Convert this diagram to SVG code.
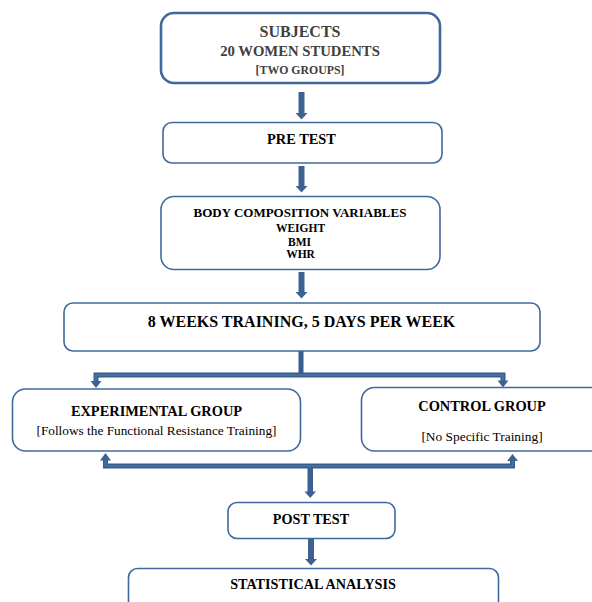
<svg xmlns="http://www.w3.org/2000/svg" width="592" height="602" viewBox="0 0 592 602">
<style>
.box{fill:#fff;stroke:#41689c;stroke-width:1.6}
.thick{stroke-width:2.6}
text{font-family:"Liberation Serif","Times New Roman",serif;text-anchor:middle}
.b{font-weight:bold;fill:#000}
.g{fill:#404040}
.r{fill:#000}
.bar{fill:none;stroke:#395d8c;stroke-width:5}
.barin{fill:none;stroke:#4d74a6;stroke-width:1.6}
.head{fill:#3d6292}
</style>
<rect width="592" height="602" fill="#fff"/>
<g id="connectors">
<rect x="298.5" y="92" width="6" height="21" class="head"/>
<polygon points="295.5,113 307.5,113 301.5,119.5" class="head"/>
<rect x="298.5" y="166" width="6" height="20" class="head"/>
<polygon points="295.5,186 307.5,186 301.5,192.5" class="head"/>
<rect x="298.5" y="272" width="6" height="20" class="head"/>
<polygon points="295.5,292 307.5,292 301.5,298.5" class="head"/>
<path d="M301,351 V375" class="bar"/>
<path d="M96,382 V375 H503 V382" class="bar"/>
<path d="M96,382 V375 H503 V382" class="barin"/>
<polygon points="90.5,381 101.5,381 96,388" class="head"/>
<polygon points="497.5,380.5 508.5,380.5 503,387.5" class="head"/>
<path d="M105.5,460 V466 H512.5 V460" class="bar"/>
<path d="M105.5,460 V466 H512.5 V460" class="barin"/>
<polygon points="100,460.5 111,460.5 105.5,453" class="head"/>
<polygon points="507,461 518,461 512.5,454" class="head"/>
<rect x="307.5" y="467" width="5.5" height="25" class="head"/>
<polygon points="304.5,491.5 316,491.5 310.2,498" class="head"/>
<rect x="308" y="539" width="6" height="20" class="head"/>
<polygon points="305,559 317,559 311,565.5" class="head"/>
</g>
<g id="subjects">
<rect x="161" y="13" width="279" height="70" rx="13" class="box thick"/>
<text x="300" y="37" font-size="16" class="b g">SUBJECTS</text>
<text x="300" y="56" font-size="14.7" class="b g">20 WOMEN STUDENTS</text>
<text x="300" y="73.5" font-size="11.8" class="b g">[TWO GROUPS]</text>
</g>
<g id="pretest">
<rect x="163" y="122.5" width="279" height="40.5" rx="9" class="box"/>
<text x="301.5" y="143.5" font-size="14.4" class="b">PRE TEST</text>
</g>
<g id="bodycomp">
<rect x="161" y="196.5" width="279" height="73" rx="13" class="box"/>
<text x="300" y="217.3" font-size="13" class="b">BODY COMPOSITION VARIABLES</text>
<text x="300.5" y="231.7" font-size="11.5" class="b">WEIGHT</text>
<text x="299.5" y="246" font-size="11.5" class="b">BMI</text>
<text x="300.5" y="258.3" font-size="11.5" class="b">WHR</text>
</g>
<g id="training">
<rect x="64" y="303" width="476" height="48" rx="9" class="box"/>
<text x="301.5" y="326.5" font-size="16" class="b">8 WEEKS TRAINING, 5 DAYS PER WEEK</text>
</g>
<g id="experimental">
<rect x="12.5" y="389" width="288" height="62" rx="13" class="box"/>
<text x="156.5" y="416" font-size="14.4" class="b">EXPERIMENTAL GROUP</text>
<text x="156.5" y="434.5" font-size="13.3" class="r">[Follows the Functional Resistance Training]</text>
</g>
<g id="control">
<rect x="361.5" y="387.5" width="243" height="63.5" rx="13" class="box"/>
<text x="482" y="411" font-size="14.4" class="b">CONTROL GROUP</text>
<text x="482" y="440.5" font-size="13.4" class="r">[No Specific Training]</text>
</g>
<g id="posttest">
<rect x="228" y="502.5" width="167" height="36" rx="9" class="box"/>
<text x="311" y="524.3" font-size="14.2" class="b">POST TEST</text>
</g>
<g id="statistical">
<rect x="128.5" y="568.5" width="370" height="50" rx="9" class="box"/>
<text x="313" y="589.3" font-size="14.2" class="b">STATISTICAL ANALYSIS</text>
</g>
</svg>
